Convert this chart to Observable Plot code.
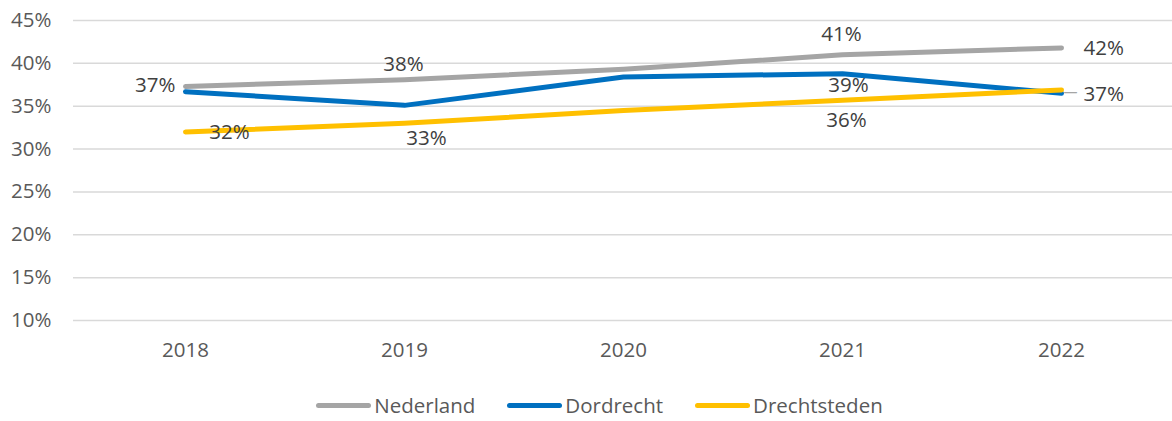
<!DOCTYPE html>
<html>
<head>
<meta charset="utf-8">
<script src="https://cdn.jsdelivr.net/npm/d3@7"></script>
<script src="https://cdn.jsdelivr.net/npm/@observablehq/plot@0.6"></script>
<style>
  html, body { margin: 0; padding: 0; background: #fff; }
  body { width: 1172px; height: 421px; overflow: hidden; font-family: "Open Sans", sans-serif; }
  #legend { display: flex; justify-content: center; align-items: center; height: 30px; margin-top: 15px; padding-left: 27px; font-size: 20.5px; color: #595959; }
  .item { display: flex; align-items: center; margin: 0 16px; }
  .sw { width: 55px; height: 5px; border-radius: 3px; margin-right: 3px; }
</style>
</head>
<body>
<div id="chart"></div>
<div id="legend"></div>
<script>
const years = ["2018", "2019", "2020", "2021", "2022"];
const seriesNames = ["Nederland", "Dordrecht", "Drechtsteden"];
const nederland = [0.373, 0.381, 0.393, 0.410, 0.418];
const dordrecht = [0.367, 0.351, 0.384, 0.388, 0.365];
const drechtsteden = [0.320, 0.330, 0.345, 0.357, 0.369];
const colors = ["#A5A5A5", "#0070C0", "#FFC000"];
const yTicks = [0.10, 0.15, 0.20, 0.25, 0.30, 0.35, 0.40, 0.45];
// labelled points: [series, year, placement]
const labelled = [
  ["Nederland", "2018", "left"],
  ["Nederland", "2019", "above"],
  ["Nederland", "2021", "above2"],
  ["Nederland", "2022", "right"],
  ["Dordrecht", "2021", "below"],
  ["Dordrecht", "2022", "right"],
  ["Drechtsteden", "2018", "belowright"],
  ["Drechtsteden", "2019", "below2right"],
  ["Drechtsteden", "2021", "below2"]
];

const valuesBySeries = {Nederland: nederland, Dordrecht: dordrecht, Drechtsteden: drechtsteden};
const data = seriesNames.flatMap(s => years.map((y, i) => ({series: s, year: y, value: valuesBySeries[s][i]})));
const offsets = {
  left: {dx: -10, dy: -1, anchor: "end"},
  above: {dx: -1, dy: -15, anchor: "middle"},
  above2: {dx: -1, dy: -20, anchor: "middle"},
  right: {dx: 22, dy: 1, anchor: "start"},
  below: {dx: 6, dy: 12, anchor: "middle"},
  belowright: {dx: 44, dy: 1, anchor: "middle"},
  below2right: {dx: 22, dy: 15, anchor: "middle"},
  below2: {dx: 4, dy: 20, anchor: "middle"}
};
const labelData = labelled.map(([s, y, p]) => ({...data.find(d => d.series === s && d.year === y), place: p}));
const fmt = v => Math.round(v * 100) + "%";

const textMarks = Object.keys(offsets).map(p => Plot.text(labelData.filter(d => d.place === p), {
  x: "year", y: "value", text: d => fmt(d.value),
  dx: offsets[p].dx, dy: offsets[p].dy, textAnchor: offsets[p].anchor,
  fill: "#404040", fontSize: 20.5
}));

const leader = labelData.filter(d => d.series === "Dordrecht" && d.year === "2022");

const plot = Plot.plot({
  width: 1172,
  height: 375,
  marginTop: 20,
  marginBottom: 55,
  marginLeft: 73,
  marginRight: 0,
  style: {fontFamily: "Open Sans, sans-serif", fontSize: "20px", color: "#595959", background: "#fff"},
  x: {type: "point", domain: years, padding: 0.5, label: null, tickSize: 0, tickPadding: 22},
  y: {domain: [0.10, 0.45], ticks: yTicks, tickFormat: d => Math.round(d * 100) + "%", label: null, tickSize: 0, tickPadding: 22},
  color: {domain: seriesNames, range: colors},
  marks: [
    Plot.ruleY(yTicks, {stroke: "#D9D9D9", strokeWidth: 1.5}),
    Plot.axisY({ticks: yTicks, tickFormat: d => Math.round(d * 100) + "%", tickSize: 0, tickPadding: 22, label: null, fill: "#595959", fontSize: 20.5}),
    Plot.axisX({tickSize: 0, tickPadding: 22, label: null, fill: "#595959", fontSize: 20.5}),
    Plot.line(data, {x: "year", y: "value", z: "series", stroke: "series", strokeWidth: 5, strokeLinecap: "round", strokeLinejoin: "round"}),
    Plot.text(leader, {x: "year", y: "value", text: () => "—", dx: 9, dy: -1, fill: "#A5A5A5", fontSize: 14}),
    ...textMarks
  ]
});
document.getElementById("chart").appendChild(plot);

const legend = document.getElementById("legend");
seriesNames.forEach((s, i) => {
  const item = document.createElement("div");
  item.className = "item";
  const sw = document.createElement("div");
  sw.className = "sw";
  sw.style.background = colors[i];
  const t = document.createElement("span");
  t.textContent = s;
  item.appendChild(sw);
  item.appendChild(t);
  legend.appendChild(item);
});
</script>
</body>
</html>
